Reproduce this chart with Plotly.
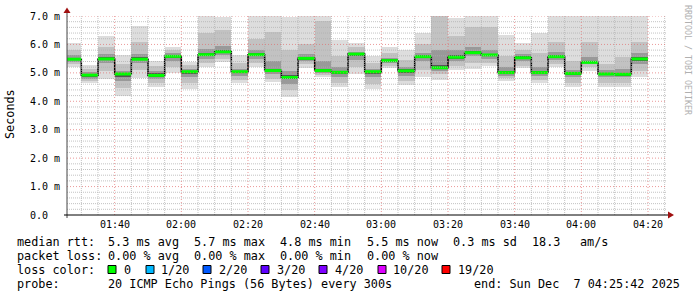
import plotly.graph_objects as go

# ---------------- data ----------------
# 5-minute steps starting 01:25 (minutes after midnight), last step ends 04:20
step_start_min = [85 + 5 * k for k in range(35)]
step_minutes = 5
loss = [0] * 35  # packet loss per step (x/20)

rtt_median = [5.48, 4.92, 5.49, 4.96, 5.48, 4.91, 5.58, 5.04, 5.64, 5.74,
              5.04, 5.64, 5.08, 4.84, 5.51, 5.08, 5.02, 5.66, 5.04, 5.43,
              5.07, 5.57, 5.18, 5.55, 5.71, 5.63, 5.01, 5.53, 5.01, 5.57,
              4.98, 5.37, 4.96, 4.95, 5.49]
ping_min = [5.22, 4.65, 4.77, 4.19, 4.81, 4.49, 5.01, 4.42, 5.22, 5.39,
            4.65, 5.22, 4.69, 4.16, 5.18, 4.84, 4.51, 4.96, 4.42, 5.16,
            4.57, 4.87, 4.75, 5.10, 5.12, 5.24, 4.72, 5.16, 4.63, 5.22,
            4.49, 5.08, 4.51, 4.51, 4.87]
ping_p10 = [5.30, 4.72, 5.05, 4.45, 5.10, 4.65, 5.20, 4.65, 5.35, 5.50,
            4.75, 5.35, 4.80, 4.40, 5.30, 4.92, 4.65, 5.20, 4.60, 5.25,
            4.70, 5.10, 4.95, 5.25, 5.35, 5.35, 4.82, 5.25, 4.75, 5.32,
            4.65, 5.20, 4.65, 4.65, 5.05]
ping_q1 = [5.38, 4.80, 5.35, 4.70, 5.35, 4.78, 5.42, 4.84, 5.48, 5.62,
           4.90, 5.50, 4.95, 4.62, 5.40, 4.98, 4.85, 5.45, 4.84, 5.34,
           4.88, 5.40, 5.08, 5.42, 5.58, 5.50, 4.90, 5.40, 4.88, 5.44,
           4.84, 5.30, 4.84, 4.84, 5.30]
ping_p40 = [5.44, 4.86, 5.45, 4.85, 5.44, 4.86, 5.52, 4.96, 5.58, 5.70,
            4.98, 5.60, 5.03, 4.78, 5.47, 5.04, 4.96, 5.58, 4.96, 5.40,
            5.00, 5.52, 5.14, 5.50, 5.66, 5.58, 4.96, 5.48, 4.96, 5.52,
            4.93, 5.34, 4.91, 4.90, 5.42]
ping_p60 = [5.54, 4.96, 5.55, 5.00, 5.56, 4.98, 5.62, 5.08, 5.70, 5.80,
            5.08, 5.70, 5.15, 4.92, 5.57, 5.14, 5.08, 5.70, 5.08, 5.48,
            5.12, 5.62, 5.28, 5.62, 5.78, 5.68, 5.06, 5.58, 5.06, 5.62,
            5.03, 5.42, 5.01, 5.00, 5.56]
ping_q3 = [5.62, 5.02, 5.65, 5.08, 5.68, 5.06, 5.70, 5.15, 5.85, 5.95,
           5.15, 5.80, 5.40, 5.05, 5.65, 5.40, 5.20, 5.75, 5.15, 5.52,
           5.20, 5.70, 5.80, 5.80, 5.90, 5.80, 5.20, 5.65, 5.20, 5.75,
           5.10, 5.55, 5.10, 5.15, 5.70]
ping_p90 = [5.80, 5.15, 5.90, 5.30, 6.10, 5.25, 5.80, 5.28, 6.40, 6.50,
            5.35, 6.20, 6.45, 5.80, 6.00, 6.83, 5.60, 5.90, 5.35, 5.70,
            5.45, 6.00, 7.10, 6.30, 6.60, 6.60, 5.60, 5.80, 5.70, 6.10,
            5.40, 6.10, 5.30, 5.55, 6.10]
ping_max = [6.04, 5.28, 6.30, 5.63, 6.65, 5.42, 5.92, 5.39, 7.30, 6.95,
            5.63, 7.40, 7.50, 6.95, 7.30, 7.50, 6.16, 6.04, 5.59, 5.90,
            5.80, 6.41, 7.60, 6.92, 7.30, 7.30, 6.33, 6.04, 6.41, 7.30,
            7.30, 7.30, 7.30, 7.30, 7.30]

x_tick_vals = [100, 120, 140, 160, 180, 200, 220, 240, 260]
x_tick_text = ["01:40", "02:00", "02:20", "02:40", "03:00", "03:20", "03:40", "04:00", "04:20"]
y_tick_vals = [0, 1, 2, 3, 4, 5, 6, 7]
y_tick_text = ["0.0", "1.0 m", "2.0 m", "3.0 m", "4.0 m", "5.0 m", "6.0 m", "7.0 m"]

loss_labels = ["0", "1/20", "2/20", "3/20", "4/20", "10/20", "19/20"]
loss_colors = ["#00ff00", "#00b8ff", "#0059ff", "#5e00ff", "#7e00ff", "#dd00ff", "#ff0000"]
loss_levels = [0, 1, 2, 3, 4, 10, 19]

x_range = [85.7, 265.7]   # 01:25:42 .. 04:25:42
y_range = [0, 7]

# ---------------- geometry helpers ----------------
W, H = 697, 297
L, R, T, B = 67, 667, 16, 215


def px(xp):
    return (xp - L) / (R - L)


def py(yp):
    return (B - yp) / (B - T)


MONO = "DejaVu Sans Mono"
fig = go.Figure()

centers = [s + step_minutes / 2 for s in step_start_min]
layers = [
    (ping_min, ping_max, "#dddddd"),
    (ping_p10, ping_p90, "#c2c2c2"),
    (ping_q1, ping_q3, "#999999"),
    (ping_p40, ping_p60, "#555555"),
]
for lo, hi, col in layers:
    fig.add_trace(go.Bar(
        x=centers, y=[h - l for l, h in zip(lo, hi)], base=lo, width=step_minutes,
        marker=dict(color=col, line=dict(width=0)), showlegend=False, hoverinfo="skip"))

# black median step line
xs = step_start_min + [step_start_min[-1] + step_minutes]
ys = rtt_median + [rtt_median[-1]]
fig.add_trace(go.Scatter(x=xs, y=ys, mode="lines", line=dict(color="#000000", width=1.5, shape="hv"),
                         showlegend=False, hoverinfo="skip"))


def loss_color(v):
    c = loss_colors[0]
    for lv, cc in zip(loss_levels, loss_colors):
        if v >= lv:
            c = cc
    return c


# coloured median segments
for s, m, ls in zip(step_start_min, rtt_median, loss):
    fig.add_trace(go.Scatter(x=[s, s + step_minutes], y=[m, m], mode="lines",
                             line=dict(color=loss_color(ls), width=3),
                             showlegend=False, hoverinfo="skip"))

shapes = []
# grid (drawn above the smoke like rrdtool)
minor_col = "rgba(175,175,175,0.75)"
major_col = "rgba(225,110,110,0.7)"
for i in range(1, 36):
    v = i * 0.2
    if abs(v - round(v)) < 1e-6:
        continue
    shapes.append(dict(type="line", xref="paper", yref="y", x0=0, x1=1, y0=v, y1=v,
                       line=dict(color=minor_col, width=1, dash="1px,1px"), layer="above"))
for m in range(90, 266, 5):
    if m % 20 == 0:
        continue
    shapes.append(dict(type="line", xref="x", yref="paper", x0=m, x1=m, y0=0, y1=1,
                       line=dict(color=minor_col, width=1, dash="1px,1px"), layer="above"))
for v in y_tick_vals[1:]:
    shapes.append(dict(type="line", xref="paper", yref="y", x0=0, x1=1, y0=v, y1=v,
                       line=dict(color=major_col, width=1, dash="1px,2px"), layer="above"))
for m in x_tick_vals:
    shapes.append(dict(type="line", xref="x", yref="paper", x0=m, x1=m, y0=0, y1=1,
                       line=dict(color=major_col, width=1, dash="1px,2px"), layer="above"))

# axes and arrows
shapes.append(dict(type="line", xref="paper", yref="paper", x0=px(67), x1=px(67), y0=py(218), y1=py(12),
                   line=dict(color="#444444", width=1), layer="above"))
shapes.append(dict(type="line", xref="paper", yref="paper", x0=px(64), x1=px(669), y0=py(215), y1=py(215),
                   line=dict(color="#000000", width=1), layer="above"))
shapes.append(dict(type="path", xref="paper", yref="paper",
                   path=f"M {px(67)},{py(7.5)} L {px(63.5)},{py(13)} L {px(70.5)},{py(13)} Z",
                   fillcolor="#a01010", line=dict(width=0), layer="above"))
shapes.append(dict(type="path", xref="paper", yref="paper",
                   path=f"M {px(674)},{py(215)} L {px(668)},{py(211.5)} L {px(668)},{py(218.5)} Z",
                   fillcolor="#a01010", line=dict(width=0), layer="above"))

annotations = []
# tick labels
for v, t in zip(x_tick_vals, x_tick_text):
    annotations.append(dict(x=v, xref="x", y=py(224), yref="paper", text=t, showarrow=False,
                            xanchor="center", yanchor="middle", borderpad=0,
                            font=dict(family=MONO, size=10, color="#000000")))
for v, t in zip(y_tick_vals, y_tick_text):
    annotations.append(dict(x=px(61), xref="paper", y=v, yref="y",
                            text=t if " " in t else t + "\u00a0\u00a0", showarrow=False,
                            xanchor="right", yanchor="middle", borderpad=0,
                            font=dict(family=MONO, size=10, color="#000000")))

# y title and watermark
annotations.append(dict(x=px(10), xref="paper", y=py(114), yref="paper", text="Seconds", textangle=-90,
                        showarrow=False, xanchor="center", yanchor="middle", borderpad=0,
                        font=dict(family=MONO, size=11.8, color="#000000")))
annotations.append(dict(x=px(688), xref="paper", y=py(60), yref="paper", text="RRDTOOL / TOBI OETIKER",
                        textangle=90, showarrow=False, xanchor="center", yanchor="middle", borderpad=0,
                        font=dict(family=MONO, size=8.3, color="#b0b0b0")))


def txt(x, y, t, anchor="left"):
    annotations.append(dict(x=px(x), xref="paper", y=py(y), yref="paper",
                            text=t.replace(" ", "\u00a0"), showarrow=False,
                            xanchor=anchor, yanchor="middle", borderpad=0,
                            font=dict(family=MONO, size=11.8, color="#000000")))


line1 = [("median rtt:", 16), ("5.3 ms avg", 107.3), ("5.7 ms max", 193.3), ("4.8 ms min", 279.3),
         ("5.5 ms now", 366), ("0.3 ms sd", 451.7), ("18.3", 530.7), ("am/s", 579)]
line2 = [("packet loss:", 16), ("0.00 % avg", 107.3), ("0.00 % max", 193.3), ("0.00 % min", 279.3),
         ("0.00 % now", 366)]
for t, x in line1:
    txt(x, 241.5, t)
for t, x in line2:
    txt(x, 255.5, t)

txt(16, 269.5, "loss color:")
box_x = [108, 146, 203, 261, 319, 378, 442]
lab_x = [123, 160, 218, 276, 334, 392, 457]
for bx, lx, lab, col in zip(box_x, lab_x, loss_labels, loss_colors):
    shapes.append(dict(type="rect", xref="paper", yref="paper", x0=px(bx), x1=px(bx + 8),
                       y0=py(273.5), y1=py(265.5), fillcolor=col,
                       line=dict(color="#000000", width=1), layer="above"))
    txt(lx, 269.5, lab)

txt(16, 283.5, "probe:")
txt(107.3, 283.5, "20 ICMP Echo Pings (56 Bytes) every 300s")
txt(681, 283.5, "end: Sun Dec  7 04:25:42 2025", anchor="right")

fig.update_layout(
    width=W, height=H, margin=dict(l=L, r=W - R, t=T, b=H - B),
    paper_bgcolor="#ffffff", plot_bgcolor="#ffffff",
    barmode="overlay", bargap=0, showlegend=False,
    xaxis=dict(range=x_range, showgrid=False, zeroline=False, showline=False,
               showticklabels=False, ticks="", fixedrange=True),
    yaxis=dict(range=y_range, showgrid=False, zeroline=False, showline=False,
               showticklabels=False, ticks="", fixedrange=True),
    shapes=shapes, annotations=annotations,
)

fig.write_html("out.html")
